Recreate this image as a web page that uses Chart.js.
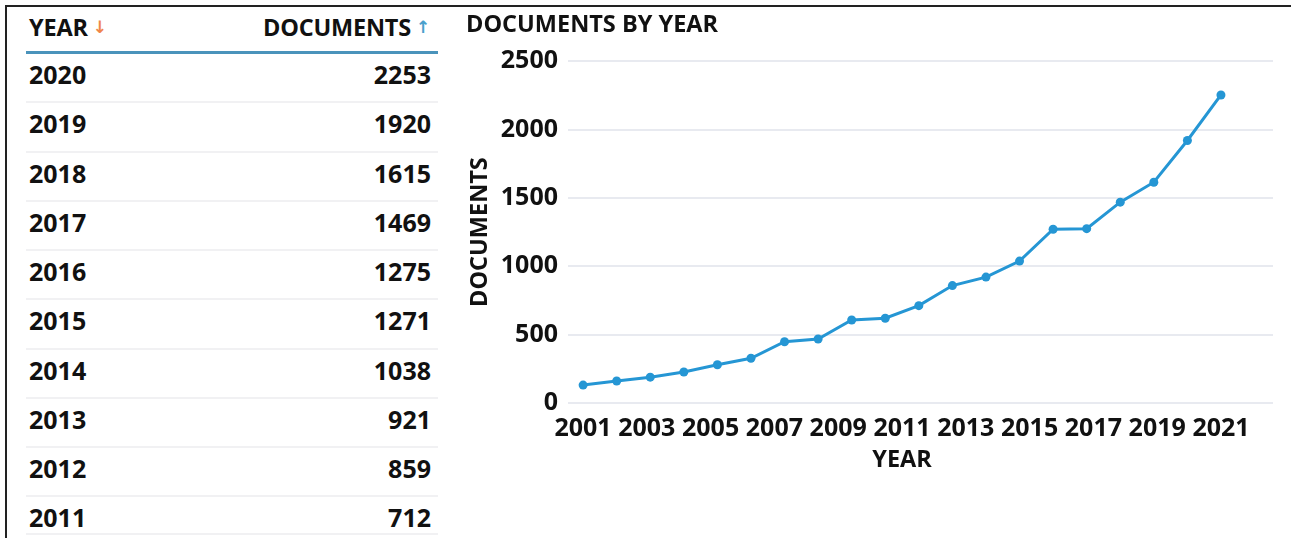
<!DOCTYPE html>
<html>
<head>
<meta charset="utf-8">
<script src="https://cdn.jsdelivr.net/npm/chart.js@4/dist/chart.umd.min.js"></script>
<style>
  html, body { margin: 0; padding: 0; background: #fff; }
  body { width: 1291px; height: 538px; position: relative; overflow: hidden;
         font-family: "Open Sans", "Noto Sans", sans-serif; color: #111; }
  .frame { position: absolute; left: 5px; top: 5px; right: -10px; bottom: -10px;
           border-top: 2px solid #222; border-left: 2px solid #222; }
  .panel { position: absolute; left: 26px; top: 0; width: 412px; }
  .head { position: absolute; left: 0; top: 0; width: 412px; height: 51px;
          border-bottom: 3px solid #4a93bb; }
  .head > span { position: absolute; top: 16px; font-size: 23.5px; font-weight: 700;
                 line-height: 23px; white-space: nowrap; letter-spacing: -0.2px; }
  .head > .c1 { left: 3px; }
  .head > .c2 { right: 8px; }
  .arrow { font-family: "DejaVu Sans", sans-serif; font-weight: 700; font-size: 17px;
           position: relative; top: -3px; margin-left: 5px; }
  .dn { color: #f0864a; }
  .up { color: #4aa0cc; }
  .rows { position: absolute; left: 0; top: 54px; width: 412px; height: 479px; overflow: hidden;
          border-bottom: 2px solid #f1f1f3; }
  .row { position: relative; height: 49.25px; box-sizing: border-box;
         border-bottom: 2px solid #f1f1f3; font-size: 25px; font-weight: 700; line-height: 23px; }
  .row span { position: absolute; top: 9px; }
  .row .c1 { left: 3px; }
  .row .c2 { right: 7px; }
  .chartbox { position: absolute; left: 440px; top: 0; width: 851px; height: 538px; }
</style>
</head>
<body>
<div class="frame"></div>
<div class="panel">
  <div class="head">
    <span class="c1">YEAR<span class="arrow dn">↓</span></span>
    <span class="c2">DOCUMENTS<span class="arrow up">↑</span></span>
  </div>
  <div class="rows" id="rows"></div>
</div>
<div class="chartbox"><canvas id="chart"></canvas></div>

<script>
// Documents published per year
const years = [2001, 2002, 2003, 2004, 2005, 2006, 2007, 2008, 2009, 2010,
               2011, 2012, 2013, 2014, 2015, 2016, 2017, 2018, 2019, 2020];
const documents = [131, 161, 189, 227, 280, 327, 448, 468, 607, 620,
                   712, 859, 921, 1038, 1271, 1275, 1469, 1615, 1920, 2253];

// Labels printed under the year axis
const yearTickLabels = [2001, 2003, 2005, 2007, 2009, 2011, 2013, 2015, 2017, 2019, 2021];
const documentTicks = [0, 500, 1000, 1500, 2000, 2500];

// Table: the ten most recent years, newest first
const tableRows = 10;
const rowsEl = document.getElementById('rows');
for (let i = years.length - 1; i >= years.length - tableRows; i--) {
  const row = document.createElement('div');
  row.className = 'row';
  row.innerHTML = '<span class="c1">' + years[i] + '</span><span class="c2">' + documents[i] + '</span>';
  rowsEl.appendChild(row);
}

const FONT = '"Open Sans", "Noto Sans", sans-serif';
const TEXT = '#111111';
const LINE = '#2596d4';

// Draws the year-axis caption centred under the plotted years
const yearCaption = {
  id: 'yearCaption',
  afterDraw(chart) {
    const x = chart.scales.x;
    const left = x.getPixelForValue(years[0]);
    const right = x.getPixelForValue(years[years.length - 1]);
    const ctx = chart.ctx;
    ctx.save();
    ctx.font = 'bold 23.5px ' + FONT;
    ctx.fillStyle = TEXT;
    ctx.textAlign = 'center';
    ctx.textBaseline = 'middle';
    ctx.fillText('YEAR', (left + right) / 2, 460);
    ctx.restore();
  }
};

new Chart(document.getElementById('chart'), {
  type: 'line',
  data: {
    datasets: [{
      data: years.map((y, i) => ({ x: y, y: documents[i] })),
      borderColor: LINE,
      backgroundColor: LINE,
      borderWidth: 3,
      pointRadius: 4.5,
      pointBackgroundColor: LINE,
      pointBorderWidth: 0,
      tension: 0,
      xAxisID: 'x',
      yAxisID: 'y'
    }]
  },
  options: {
    responsive: true,
    maintainAspectRatio: false,
    animation: false,
    layout: { padding: { left: 26, right: 18, top: 0, bottom: 0 } },
    plugins: {
      legend: { display: false },
      tooltip: { enabled: false },
      title: {
        display: true,
        text: 'DOCUMENTS BY YEAR',
        align: 'start',
        color: TEXT,
        font: { family: FONT, size: 23.5, weight: 'bold', lineHeight: 1.2 },
        padding: { top: 11, bottom: 22 }
      }
    },
    scales: {
      x: {
        type: 'linear',
        display: false,
        min: 2000.55,
        max: 2021.55
      },
      xTicks: {
        type: 'linear',
        position: 'bottom',
        min: 2000.53,
        max: 2022.63,
        afterBuildTicks: axis => { axis.ticks = yearTickLabels.map(v => ({ value: v })); },
        afterFit: axis => { axis.height = 135; },
        grid: { display: false },
        border: { display: false },
        ticks: {
          autoSkip: false,
          maxRotation: 0,
          padding: 3,
          color: TEXT,
          font: { family: FONT, size: 25, weight: 'bold' },
          callback: v => String(v)
        }
      },
      y: {
        type: 'linear',
        min: documentTicks[0],
        max: documentTicks[documentTicks.length - 1],
        afterBuildTicks: axis => { axis.ticks = documentTicks.map(v => ({ value: v })); },
        afterFit: axis => { axis.width = 102; },
        border: { display: false },
        grid: { color: '#e8eaf0', lineWidth: 2, drawTicks: false },
        ticks: {
          padding: 10,
          color: TEXT,
          font: { family: FONT, size: 25, weight: 'bold' },
          callback: v => String(v)
        },
        title: {
          display: true,
          text: 'DOCUMENTS',
          color: TEXT,
          padding: 0,
          font: { family: FONT, size: 23.5, weight: 'bold', lineHeight: 1.2 }
        }
      }
    }
  },
  plugins: [yearCaption]
});
</script>
</body>
</html>
